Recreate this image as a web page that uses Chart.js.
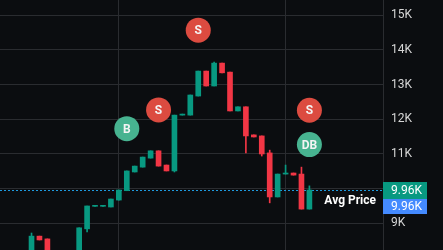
<!DOCTYPE html>
<html>
<head>
<meta charset="utf-8">
<script src="https://cdn.jsdelivr.net/npm/chart.js@4"></script>
<style>
  html, body { margin: 0; padding: 0; background: #0b0d10; }
  #wrap { width: 443px; height: 250px; }
</style>
</head>
<body>
<div id="wrap"><canvas id="priceChart"></canvas></div>
<script>
// price data in thousands (K), one entry per candle
const opens  = [8.10, 8.63, 8.55, 8.12, 7.98, 8.05, 8.18, 8.84, 9.49, 9.49, 9.47, 9.67, 9.94, 10.48, 10.62, 10.88, 11.09, 10.68, 10.51, 12.12, 12.12, 12.67, 13.39, 12.96, 13.62, 13.36, 12.24, 12.36, 11.55, 11.52, 11.03, 9.76, 10.42, 10.45, 10.42, 9.41];
const closes = [8.63, 8.52, 8.15, 7.98, 8.05, 8.18, 8.87, 9.50, 9.51, 9.51, 9.70, 9.96, 10.51, 10.65, 10.91, 11.09, 10.65, 10.51, 12.12, 12.15, 12.70, 13.39, 12.96, 13.62, 13.34, 12.24, 12.36, 11.52, 11.49, 11.00, 9.76, 10.42, 10.45, 10.39, 9.41, 9.96];
const highs  = [8.72, 8.63, 8.55, 8.12, 8.05, 8.18, 8.87, 9.50, 9.51, 9.51, 9.70, 9.96, 10.51, 10.65, 10.91, 11.09, 11.09, 10.68, 12.12, 12.15, 12.70, 13.39, 13.39, 13.65, 13.62, 13.36, 12.36, 12.36, 11.55, 11.52, 11.11, 10.42, 10.68, 10.45, 10.62, 10.08];
const lows   = [8.05, 8.52, 8.15, 7.98, 7.98, 8.05, 8.15, 8.75, 9.49, 9.49, 9.47, 9.67, 9.94, 10.48, 10.62, 10.88, 10.65, 10.51, 10.48, 12.12, 12.12, 12.67, 12.96, 12.96, 13.34, 12.24, 12.24, 11.03, 11.49, 10.94, 9.59, 9.76, 10.42, 10.39, 9.41, 9.41];

// trade markers
const markerIdx    = [12, 16, 21, 35, 35];
const markerPrice  = [11.73, 12.27, 14.57, 12.26, 11.27];
const markerLabels = ["B", "S", "S", "S", "DB"];

const yTicks = [9, 10, 11, 12, 13, 14, 15];
const xGridIdx = [11, 32];
const avgPrice = 9.96;

const UP = "#089981";
const DOWN = "#f23645";
const GRID = "#2a2c30";

const candleColors = opens.map((o, i) => (closes[i] >= o ? UP : DOWN));
const markerColors = markerLabels.map(l => (l === "S" ? "#dc4b40" : "#47b390"));

const fmtK = v => v.toFixed(2) + "K";

const chartDecor = {
  id: "chartDecor",
  beforeDraw(chart) {
    const ctx = chart.ctx;
    ctx.save();
    ctx.fillStyle = "#0b0d10";
    ctx.fillRect(0, 0, chart.width, chart.height);
    ctx.restore();
  },
  beforeDatasetsDraw(chart) {
    const { ctx, chartArea, scales } = chart;
    const y = Math.round(scales.y.getPixelForValue(avgPrice)) + 0.5;
    ctx.save();
    ctx.strokeStyle = "#1e9be0";
    ctx.lineWidth = 1;
    ctx.setLineDash([2, 2]);
    ctx.beginPath();
    ctx.moveTo(chartArea.left, y);
    ctx.lineTo(chartArea.right, y);
    ctx.stroke();
    ctx.restore();
  },
  afterDatasetsDraw(chart) {
    const { ctx, chartArea, scales } = chart;
    const y = scales.y.getPixelForValue(avgPrice);
    ctx.save();

    // marker letters
    const meta = chart.getDatasetMeta(2);
    ctx.fillStyle = "#f4f4f4";
    ctx.font = "bold 12px Roboto, 'Liberation Sans', sans-serif";
    ctx.textAlign = "center";
    ctx.textBaseline = "middle";
    meta.data.forEach((pt, i) => {
      ctx.fillText(markerLabels[i], pt.x, pt.y + 1);
    });

    // price boxes on the axis
    const bx = chartArea.right;
    ctx.fillStyle = UP;
    ctx.fillRect(bx, y - 8, 44, 17);
    ctx.fillStyle = "#448aff";
    ctx.fillRect(bx, y + 9, 44, 15);
    ctx.fillStyle = "#ffffff";
    ctx.font = "12px Roboto, 'Liberation Sans', sans-serif";
    ctx.textAlign = "left";
    ctx.fillText(fmtK(avgPrice), bx + 8, y + 0.5);
    ctx.fillText(fmtK(avgPrice), bx + 8, y + 16.5);

    // label text
    ctx.font = "bold 12px Roboto, 'Liberation Sans', sans-serif";
    ctx.textAlign = "right";
    ctx.fillText("Avg Price", chartArea.right - 7, y + 10.5);
    ctx.restore();
  }
};

const ctx = document.getElementById("priceChart").getContext("2d");
new Chart(ctx, {
  type: "bar",
  data: {
    datasets: [
      {
        label: "Body",
        data: opens.map((o, i) => ({ x: i, y: [o, closes[i]] })),
        backgroundColor: candleColors,
        barThickness: 5,
        minBarLength: 1,
        grouped: false,
        order: 2,
      },
      {
        label: "Wick",
        data: lows.map((l, i) => ({ x: i, y: [l, highs[i]] })),
        backgroundColor: candleColors,
        barThickness: 1,
        grouped: false,
        order: 3,
      },
      {
        type: "scatter",
        label: "Trades",
        data: markerIdx.map((x, i) => ({ x: x, y: markerPrice[i] })),
        backgroundColor: markerColors,
        borderWidth: 0,
        pointRadius: 12.5,
        pointHoverRadius: 12.5,
        order: 1,
      },
    ],
  },
  options: {
    responsive: true,
    maintainAspectRatio: false,
    animation: false,
    layout: { padding: 0, autoPadding: false },
    plugins: {
      legend: { display: false },
      tooltip: { enabled: false },
    },
    scales: {
      x: {
        type: "linear",
        min: -3.97,
        max: 44.27,
        offset: false,
        grid: { color: GRID, offset: false, drawTicks: false },
        border: { display: false },
        ticks: { display: false },
        afterBuildTicks: axis => { axis.ticks = xGridIdx.map(v => ({ value: v })); },
        afterFit: axis => { axis.height = 0; axis.paddingLeft = 0; axis.paddingRight = 0; },
      },
      y: {
        position: "right",
        min: 8.23,
        max: 15.44,
        grid: { color: GRID, drawTicks: false },
        border: { color: GRID },
        ticks: {
          color: "#d6d6d6",
          padding: 8,
          crossAlign: "near",
          font: { family: "Roboto, 'Liberation Sans', sans-serif", size: 12 },
          callback: v => v + "K",
        },
        afterBuildTicks: axis => { axis.ticks = yTicks.map(v => ({ value: v })); },
        afterFit: axis => { axis.width = 60; axis.paddingTop = 0; axis.paddingBottom = 0; },
      },
    },
  },
  plugins: [chartDecor],
});
</script>
</body>
</html>
